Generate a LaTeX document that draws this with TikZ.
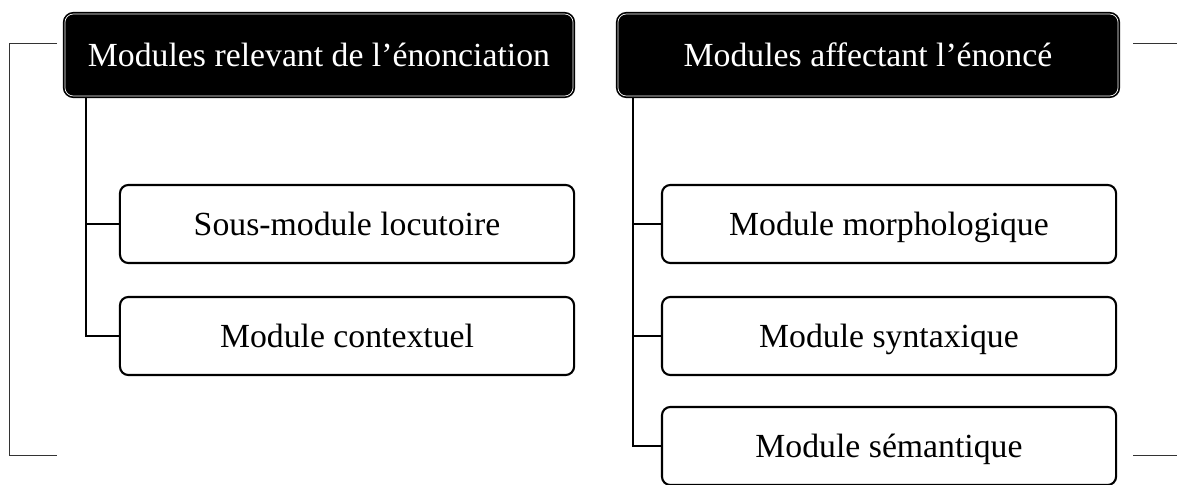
\documentclass[tikz,border=0pt]{standalone}
\usepackage{fontspec}
\setmainfont{Liberation Serif}
\usetikzlibrary{positioning}

\tikzset{
  head/.style={draw=black, fill=black, text=white, double=white,
    double distance=0.5pt, line width=1.2pt, rounded corners=6pt,
    minimum height=2.05cm, inner sep=0pt, text height=20pt, text depth=4pt},
  module/.style={draw=black, fill=white, line width=1.5pt, rounded corners=6pt,
    minimum width=11.35cm, minimum height=1.95cm, inner sep=0pt,
    text height=20pt, text depth=4pt},
  link/.style={line width=1.8pt},
  bracket/.style={line width=0.7pt, black!80}
}

\begin{document}
\begin{tikzpicture}[x=0.025cm, y=-0.025cm, font=\fontsize{24}{28}\selectfont]
  \useasboundingbox (0,0) rectangle (1177,485);

  % heads
  \node[head, minimum width=12.7cm] (enon) at (319,55) {Modules relevant de l’énonciation};
  \node[head, minimum width=12.5cm] (enonce) at (868,55) {Modules affectant l’énoncé};

  % left column
  \node[module] (loc) at (347,224) {Sous-module locutoire};
  \node[module] (ctx) at (347,336) {Module contextuel};

  % right column
  \node[module] (morph) at (889,224) {Module morphologique};
  \node[module] (synt) at (889,336) {Module syntaxique};
  \node[module] (sem) at (889,446) {Module sémantique};

  \draw[link] ([xshift=0.55cm]enon.south west) |- (loc.west);
  \draw[link] ([xshift=0.55cm]enon.south west) |- (ctx.west);
  \draw[link] ([xshift=0.4cm]enonce.south west) |- (morph.west);
  \draw[link] ([xshift=0.4cm]enonce.south west) |- (synt.west);
  \draw[link] ([xshift=0.4cm]enonce.south west) |- (sem.west);

  % brackets
  \coordinate (lt) at (57,43);
  \coordinate (lb) at (57,455);
  \coordinate (rt) at (1133,43);
  \coordinate (rb) at (1133,455);
  \draw[bracket] (lt) -- ++(-48,0) |- (lb);
  \draw[bracket] (rt) -- ++(44,0);
  \draw[bracket] (rb) -- ++(44,0);
\end{tikzpicture}
\end{document}
